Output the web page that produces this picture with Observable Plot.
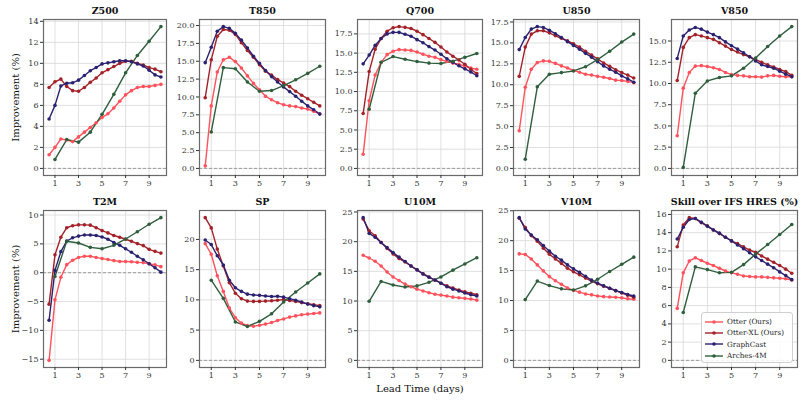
<!DOCTYPE html>
<html><head><meta charset="utf-8">
<script src="https://cdn.jsdelivr.net/npm/d3@7"></script>
<script src="https://cdn.jsdelivr.net/npm/@observablehq/plot@0.6"></script>
<style>
html,body{margin:0;padding:0;background:#fff;}
#chart{position:relative;width:804px;height:401px;font-family:"DejaVu Serif",serif;overflow:hidden;}
.panel{position:absolute;}
.legend{position:absolute;left:701px;top:312px;width:92px;height:51px;border:1px solid #d0d0d0;border-radius:3px;background:rgba(255,255,255,0.85);font-family:"DejaVu Serif",serif;font-size:7.2px;color:#222;box-sizing:border-box;padding-top:3px;white-space:nowrap;}
.legend .item{display:flex;align-items:center;height:11.3px;}
.legend svg{margin-left:3px;margin-right:4px;flex:none;}
</style></head>
<body><div id="chart"></div>
<script>
// ---------- shared categories ----------
const leadTimes = [0.5,1,1.5,2,2.5,3,3.5,4,4.5,5,5.5,6,6.5,7,7.5,8,8.5,9,9.5,10];
const archesLeadTimes = [1,2,3,4,5,6,7,8,9,10];
const seriesNames = ["Otter (Ours)","Otter-XL (Ours)","GraphCast","Arches-4M"];
const seriesColors = ["#ff525c","#a3222a","#2b2171","#2f5e3d"];
const panelTitles = ["Z500","T850","Q700","U850","V850","T2M","SP","U10M","V10M","Skill over IFS HRES (%)"];
const xTicks = [1,3,5,7,9];

// ---------- tick labels ----------
const z500Ticks = [0,2,4,6,8,10,12,14];
const t850Ticks = [0,2.5,5,7.5,10,12.5,15,17.5,20];
const q700Ticks = [0,2.5,5,7.5,10,12.5,15,17.5];
const u850Ticks = [0,2.5,5,7.5,10,12.5,15,17.5];
const v850Ticks = [0,2.5,5,7.5,10,12.5,15];
const t2mTicks = [-15,-10,-5,0,5,10];
const spTicks = [0,5,10,15,20];
const u10mTicks = [0,5,10,15,20,25];
const v10mTicks = [0,5,10,15,20,25];
const skillTicks = [0,2,4,6,8,10,12,14,16];

// ---------- series values ----------
const z500Otter = [1.3,2.0,2.8,2.7,2.55,3.0,3.45,3.9,4.35,4.85,5.2,5.75,6.4,7.0,7.4,7.7,7.8,7.8,7.9,8.0];
const z500OtterXL = [7.7,8.25,8.5,7.8,7.4,7.35,7.7,8.2,8.6,9.1,9.4,9.7,10.0,10.2,10.2,10.0,9.85,9.6,9.45,9.2];
const z500GraphCast = [4.7,6.0,7.85,8.1,8.15,8.4,8.85,9.3,9.6,9.95,10.05,10.15,10.25,10.25,10.15,9.95,9.75,9.35,8.9,8.7];
const z500Arches = [0.85,2.75,2.5,3.45,5.15,7.05,9.1,10.75,12.1,13.5];

const t850Otter = [0.35,8.75,13.5,15.2,15.55,14.95,14.05,12.95,11.9,11.0,10.1,9.6,9.2,8.9,8.75,8.65,8.45,8.3,8.0,7.65];
const t850OtterXL = [9.9,15.2,18.5,19.45,19.35,18.75,17.6,16.5,15.55,14.5,13.6,13.05,12.45,11.95,11.45,10.8,10.25,9.75,9.25,8.75];
const t850GraphCast = [14.8,16.95,19.2,19.85,19.6,18.9,17.95,16.85,15.7,14.7,13.7,12.85,12.1,11.4,10.75,10.1,9.4,8.75,8.2,7.6];
const t850Arches = [5.1,14.1,13.95,12.1,10.8,10.9,11.6,12.4,13.3,14.3];

const q700Otter = [1.85,8.8,12.15,13.8,14.8,15.25,15.45,15.4,15.35,15.15,14.85,14.6,14.45,14.15,13.9,13.7,13.55,13.3,13.05,12.9];
const q700OtterXL = [7.15,12.6,15.5,16.9,17.85,18.3,18.45,18.35,18.2,17.85,17.4,16.9,16.4,15.8,15.15,14.6,14.1,13.55,12.9,12.35];
const q700GraphCast = [13.6,14.75,16.0,16.9,17.5,17.7,17.7,17.45,17.2,16.75,16.35,15.85,15.4,14.85,14.25,13.8,13.35,12.95,12.55,12.05];
const q700Arches = [7.7,13.8,14.55,14.2,13.9,13.7,13.65,13.95,14.45,14.95];

const u850Otter = [4.5,9.7,11.85,12.65,12.85,12.8,12.55,12.25,12.0,11.7,11.5,11.25,11.15,11.0,10.9,10.75,10.55,10.5,10.4,10.25];
const u850OtterXL = [11.0,14.5,16.05,16.45,16.45,16.2,15.85,15.55,15.25,14.9,14.5,14.0,13.55,13.1,12.6,12.2,11.8,11.45,11.15,10.8];
const u850GraphCast = [14.2,15.65,16.65,16.95,16.85,16.5,16.1,15.65,15.15,14.7,14.25,13.75,13.3,12.75,12.25,11.85,11.5,11.05,10.7,10.3];
const u850Arches = [1.1,9.75,11.25,11.45,11.65,12.15,13.0,14.0,15.1,16.05];

const v850Otter = [3.85,9.45,11.3,12.05,12.1,12.0,11.85,11.65,11.3,11.05,10.95,10.9,10.8,10.8,10.75,10.9,10.95,10.85,10.8,10.8];
const v850OtterXL = [10.35,14.25,15.4,15.75,15.6,15.4,15.2,14.8,14.4,14.0,13.7,13.4,13.15,12.8,12.5,12.2,11.95,11.65,11.4,10.95];
const v850GraphCast = [12.95,15.6,16.3,16.6,16.4,16.05,15.75,15.4,14.9,14.45,14.05,13.6,13.15,12.65,12.2,12.0,11.8,11.45,11.1,10.8];
const v850Arches = [0.12,8.85,10.3,10.7,10.9,11.8,13.0,14.35,15.6,16.7];

const t2mOtter = [-15.2,-4.7,-0.8,1.4,2.15,2.65,2.85,2.85,2.65,2.45,2.3,2.1,1.95,1.95,1.9,1.8,1.75,1.55,1.35,1.05];
const t2mOtterXL = [-5.45,3.1,6.15,7.8,8.15,8.3,8.3,8.25,7.8,7.3,6.9,6.45,6.15,5.8,5.45,5.05,4.7,4.05,3.7,3.4];
const t2mGraphCast = [-8.25,0.4,3.65,5.5,6.05,6.35,6.55,6.55,6.45,6.2,5.8,5.25,4.75,4.15,3.55,2.85,2.25,1.55,0.85,0.1];
const t2mArches = [-0.65,5.45,5.15,4.4,4.15,4.75,5.85,7.1,8.4,9.55];

const spOtter = [19.3,17.55,14.0,11.4,8.65,7.05,6.15,5.75,5.65,5.8,6.0,6.25,6.6,6.85,7.15,7.35,7.55,7.65,7.75,7.85];
const spOtterXL = [23.6,21.9,18.4,15.6,12.85,11.1,10.2,9.8,9.75,9.75,9.8,9.85,9.95,10.05,9.9,9.75,9.55,9.35,9.2,9.05];
const spGraphCast = [19.9,19.15,17.3,15.75,13.25,12.0,11.4,10.95,10.8,10.75,10.65,10.55,10.6,10.45,10.2,9.95,9.65,9.3,9.05,8.85];
const spArches = [13.25,10.25,6.35,5.6,6.45,7.7,9.65,11.3,12.8,14.3];

const u10mOtter = [17.7,17.25,16.7,15.9,14.9,14.05,13.45,12.85,12.4,12.0,11.7,11.4,11.15,11.0,10.85,10.65,10.55,10.45,10.35,10.15];
const u10mOtterXL = [23.8,21.85,21.0,19.85,18.85,17.95,17.15,16.6,15.9,15.25,14.6,14.05,13.5,13.0,12.55,12.2,11.85,11.55,11.3,11.05];
const u10mGraphCast = [24.05,21.4,20.75,19.85,19.0,18.15,17.4,16.65,15.9,15.25,14.55,14.0,13.55,13.0,12.4,12.0,11.7,11.35,11.05,10.85];
const u10mArches = [9.95,13.3,12.7,12.35,12.55,13.15,14.05,15.2,16.25,17.3];

const v10mOtter = [17.8,17.7,16.95,15.95,14.95,14.0,13.3,12.7,12.1,11.7,11.4,11.1,10.95,10.75,10.65,10.6,10.55,10.45,10.3,10.2];
const v10mOtterXL = [23.75,22.2,20.85,19.9,18.75,17.75,16.95,16.2,15.4,14.8,14.3,13.75,13.25,12.8,12.4,12.05,11.65,11.25,10.9,10.55];
const v10mGraphCast = [23.85,21.95,20.95,20.15,19.2,18.25,17.4,16.75,15.95,15.3,14.7,14.05,13.4,12.9,12.45,12.05,11.65,11.35,11.0,10.75];
const v10mArches = [10.15,13.25,12.5,11.95,11.75,12.45,13.55,14.85,16.05,17.25];

const skillOtter = [5.7,9.6,10.9,11.25,10.95,10.65,10.4,10.1,9.8,9.6,9.45,9.25,9.2,9.15,9.15,9.1,9.05,9.0,8.95,8.8];
const skillOtterXL = [12.45,14.85,15.65,15.55,15.1,14.75,14.3,13.9,13.5,13.1,12.8,12.45,12.1,11.85,11.45,11.1,10.75,10.4,10.0,9.55];
const skillGraphCast = [13.3,14.6,15.45,15.55,15.15,14.7,14.3,13.95,13.5,13.1,12.65,12.25,11.8,11.35,10.95,10.55,10.15,9.7,9.3,8.85];
const skillArches = [5.25,10.25,9.95,9.6,9.65,10.5,11.65,12.7,13.8,14.9];

// ---------- panel table built from the arrays ----------
const panels = [
  {title: panelTitles[0], ticks: z500Ticks, fmt: "d", series: [z500Otter, z500OtterXL, z500GraphCast, z500Arches]},
  {title: panelTitles[1], ticks: t850Ticks, fmt: ".1f", series: [t850Otter, t850OtterXL, t850GraphCast, t850Arches]},
  {title: panelTitles[2], ticks: q700Ticks, fmt: ".1f", series: [q700Otter, q700OtterXL, q700GraphCast, q700Arches]},
  {title: panelTitles[3], ticks: u850Ticks, fmt: ".1f", series: [u850Otter, u850OtterXL, u850GraphCast, u850Arches]},
  {title: panelTitles[4], ticks: v850Ticks, fmt: ".1f", series: [v850Otter, v850OtterXL, v850GraphCast, v850Arches]},
  {title: panelTitles[5], ticks: t2mTicks, fmt: "d", series: [t2mOtter, t2mOtterXL, t2mGraphCast, t2mArches]},
  {title: panelTitles[6], ticks: spTicks, fmt: "d", series: [spOtter, spOtterXL, spGraphCast, spArches]},
  {title: panelTitles[7], ticks: u10mTicks, fmt: "d", series: [u10mOtter, u10mOtterXL, u10mGraphCast, u10mArches]},
  {title: panelTitles[8], ticks: v10mTicks, fmt: "d", series: [v10mOtter, v10mOtterXL, v10mGraphCast, v10mArches]},
  {title: panelTitles[9], ticks: skillTicks, fmt: "d", series: [skillOtter, skillOtterXL, skillGraphCast, skillArches]}
];

// layout (frame boxes in page pixels)
const colFrames = [[43,166],[199,325],[357,482],[513,639],[671,797]];
const rowFrames = [[19,175],[210,367]];
const ML = 45, MR = 6, MT = 22, MB = 32;

const chart = document.getElementById("chart");

panels.forEach((p, idx) => {
  const row = Math.floor(idx / 5), col = idx % 5;
  const [fx0, fx1] = colFrames[col];
  const [fy0, fy1] = rowFrames[row];
  const rows = [];
  p.series.forEach((vals, si) => {
    const xs = si === 3 ? archesLeadTimes : leadTimes;
    vals.forEach((v, i) => rows.push({t: xs[i], v, series: seriesNames[si]}));
  });
  const lo = Math.min(0, d3.min(rows, d => d.v));
  const hi = Math.max(0, d3.max(rows, d => d.v));
  const pad = (hi - lo) * 0.05;
  const marks = [
    Plot.gridX(xTicks, {stroke: "#d8d8d8", strokeOpacity: 1, strokeWidth: 0.8}),
    Plot.gridY(p.ticks, {stroke: "#d8d8d8", strokeOpacity: 1, strokeWidth: 0.8}),
    Plot.ruleY([0], {stroke: "#8a8a8a", strokeWidth: 0.8, strokeDasharray: "3,2"}),
    Plot.line(rows, {x: "t", y: "v", z: "series", stroke: "series", strokeWidth: 1.4}),
    Plot.dot(rows, {x: "t", y: "v", fill: "series", r: 1.8}),
    Plot.frame({stroke: "#6a6a6a", strokeWidth: 1.2}),
    Plot.axisX(xTicks, {tickSize: 3, tickPadding: 2, fontSize: 8, label: null, color: "#333"}),
    Plot.axisY(p.ticks, {tickSize: 3, tickPadding: 2, fontSize: 8, label: null, tickFormat: d3.format(p.fmt), color: "#333"}),
    Plot.text([p.title], {frameAnchor: "top", dy: -9, lineAnchor: "middle", text: d => d, fontWeight: "bold", fontSize: 9.5, fill: "#111"})
  ];
  if (col === 0) {
    marks.push(Plot.text(["Improvement (%)"], {frameAnchor: "left", dx: -28, rotate: -90, lineAnchor: "middle", textAnchor: "middle", text: d => d, fontSize: 10, fill: "#111"}));
  }
  if (idx === 7) {
    marks.push(Plot.text(["Lead Time (days)"], {frameAnchor: "bottom", dy: 21, lineAnchor: "middle", text: d => d, fontSize: 10, fill: "#111"}));
  }
  const svg = Plot.plot({
    width: (fx1 - fx0) + ML + MR,
    height: (fy1 - fy0) + MT + MB,
    marginLeft: ML, marginRight: MR, marginTop: MT, marginBottom: MB,
    style: {fontFamily: "DejaVu Serif", fontSize: "8px", background: "transparent", color: "#333", overflow: "visible"},
    x: {domain: [0.025, 10.475]},
    y: {domain: [lo - pad, hi + pad]},
    color: {domain: seriesNames, range: seriesColors},
    marks
  });
  const div = document.createElement("div");
  div.className = "panel";
  div.style.left = (fx0 - ML) + "px";
  div.style.top = (fy0 - MT) + "px";
  div.appendChild(svg);
  chart.appendChild(div);
});

// legend inside the last panel
const legend = document.createElement("div");
legend.className = "legend";
seriesNames.forEach((name, i) => {
  const item = document.createElement("div");
  item.className = "item";
  item.innerHTML = `<svg width="18" height="8"><line x1="0" y1="4" x2="18" y2="4" stroke="${seriesColors[i]}" stroke-width="1.4"/><circle cx="9" cy="4" r="1.8" fill="${seriesColors[i]}"/></svg><span>${name}</span>`;
  legend.appendChild(item);
});
chart.appendChild(legend);
</script>
</body></html>
